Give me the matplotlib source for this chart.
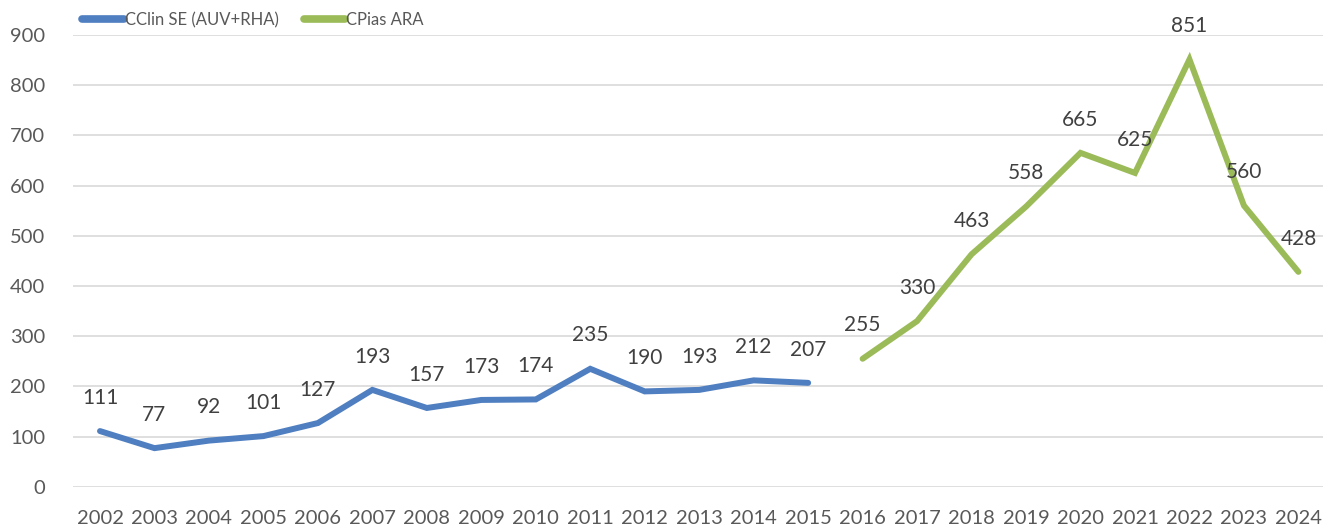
import matplotlib.pyplot as plt
import numpy as np

plt.rcParams['font.family'] = ['Lato', 'DejaVu Sans']

years = [str(y) for y in range(2002, 2025)]
cclin_years = years[:14]
cclin_vals = [111, 77, 92, 101, 127, 193, 157, 173, 174, 235, 190, 193, 212, 207]
cpias_years = years[14:]
cpias_vals = [255, 330, 463, 558, 665, 625, 851, 560, 428]

blue = '#4F7FC0'
green = '#9BBB59'
grey_text = '#404040'

fig = plt.figure(figsize=(13.23, 5.28), dpi=100)
ax = fig.add_axes([0.055, 0.078, 0.947, 0.856])

x_all = np.arange(len(years))
x_cclin = x_all[:len(cclin_vals)]
x_cpias = x_all[len(cclin_vals):]

ax.plot(x_cclin, cclin_vals, color=blue, lw=4.3, solid_capstyle='round',
        solid_joinstyle='miter', label='CClin SE (AUV+RHA)')
ax.plot(x_cpias, cpias_vals, color=green, lw=4.3, solid_capstyle='round',
        solid_joinstyle='miter', label='CPias ARA')

# Data labels above each point
for xs, vals in ((x_cclin, cclin_vals), (x_cpias, cpias_vals)):
    for x, v in zip(xs, vals):
        ax.annotate(str(v), (x, v), xytext=(0, 24), textcoords='offset points',
                    ha='center', va='center', fontsize=15, color=grey_text)

ax.set_xlim(-0.5, len(years) - 0.5)
ax.set_ylim(0, 900)
ax.set_yticks(range(0, 901, 100))
ax.set_xticks(x_all)
ax.set_xticklabels(years)
ax.tick_params(axis='both', length=0, labelsize=14.5, colors='#595959')
ax.tick_params(axis='y', pad=20)
ax.tick_params(axis='x', pad=17)
ax.grid(axis='y', color='#D9D9D9', lw=1.2)
ax.set_axisbelow(True)
for s in ax.spines.values():
    s.set_visible(False)

leg = fig.legend(loc='center left', bbox_to_anchor=(0.056, 0.962), ncol=2, frameon=False,
                 fontsize=12, handlelength=2.5, handletextpad=0.05, columnspacing=1.5,
                 labelcolor='#595959', borderpad=0)
for line in leg.get_lines():
    line.set_linewidth(5.5)

fig.savefig('out.png', dpi=100)
